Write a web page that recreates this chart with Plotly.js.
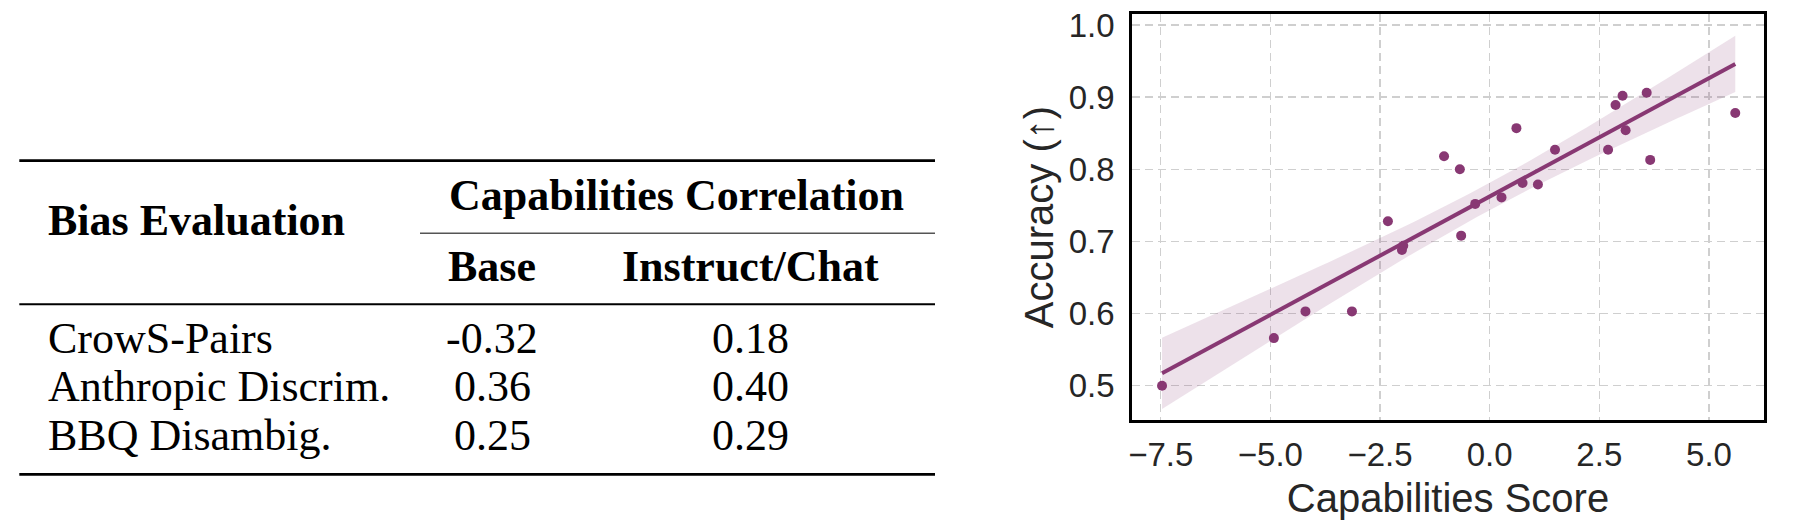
<!DOCTYPE html>
<html>
<head>
<meta charset="utf-8">
<script src="https://cdn.plot.ly/plotly-3.0.1.min.js"></script>
<style>html,body{margin:0;padding:0;background:#fff;}#chart{width:1802px;height:522px;}</style>
</head>
<body>
<div id="chart"></div>
<script>
// ---------------- DATA ----------------
// Table
const tableHeaderLeft = "Bias Evaluation";
const tableHeaderGroup = "Capabilities Correlation";
const tableColumns = ["Base", "Instruct/Chat"];
const biasEvaluations = ["CrowS-Pairs", "Anthropic Discrim.", "BBQ Disambig."];
const baseCorrelation = [-0.32, 0.36, 0.25];
const instructCorrelation = [0.18, 0.40, 0.29];

// Scatter: capabilities score vs accuracy
const capabilitiesScore = [-7.47, -4.92, -4.20, -3.14, -2.32, -2.00, -1.97, -1.04, -0.68, -0.65, -0.33,
                           0.27, 0.61, 0.75, 1.10, 1.49, 2.70, 2.87, 3.03, 3.10, 3.58, 3.66, 5.60];
const accuracy = [0.500, 0.566, 0.603, 0.603, 0.728, 0.688, 0.694, 0.818, 0.800, 0.708, 0.752,
                  0.761, 0.857, 0.781, 0.779, 0.827, 0.827, 0.889, 0.902, 0.854, 0.906, 0.813, 0.878];
const xTickVals = [-7.5, -5.0, -2.5, 0.0, 2.5, 5.0];
const xTickText = ["\u22127.5", "\u22125.0", "\u22122.5", "0.0", "2.5", "5.0"];
const yTickVals = [0.5, 0.6, 0.7, 0.8, 0.9, 1.0];
const yTickText = ["0.5", "0.6", "0.7", "0.8", "0.9", "1.0"];

// ---------------- REGRESSION (OLS + 95% CI) ----------------
const n = capabilitiesScore.length;
const xbar = capabilitiesScore.reduce((a, b) => a + b, 0) / n;
const ybar = accuracy.reduce((a, b) => a + b, 0) / n;
let Sxx = 0, Sxy = 0;
for (let i = 0; i < n; i++) {
  Sxx += (capabilitiesScore[i] - xbar) ** 2;
  Sxy += (capabilitiesScore[i] - xbar) * (accuracy[i] - ybar);
}
const slope = Sxy / Sxx, intercept = ybar - slope * xbar;
let sse = 0;
for (let i = 0; i < n; i++) sse += (accuracy[i] - intercept - slope * capabilitiesScore[i]) ** 2;
const s = Math.sqrt(sse / (n - 2));
const tCrit = 2.08;
const xmin = Math.min(...capabilitiesScore), xmax = Math.max(...capabilitiesScore);
const gx = [], gy = [], lo = [], hi = [];
for (let k = 0; k <= 100; k++) {
  const x = xmin + (xmax - xmin) * k / 100;
  const yh = intercept + slope * x;
  const se = s * Math.sqrt(1 / n + (x - xbar) ** 2 / Sxx);
  gx.push(x); gy.push(yh); lo.push(yh - tCrit * se); hi.push(yh + tCrit * se);
}

// ---------------- LAYOUT HELPERS ----------------
const W = 1802, H = 522;
const px = v => v / W;
const py = v => 1 - v / H;
const purple = "#883873";
const serif = "Liberation Serif, Times New Roman, serif";
const sans = "Liberation Sans, Arial, sans-serif";
const tfs = 44;

const traces = [
  {x: gx, y: lo, mode: "lines", line: {width: 0, color: purple}, hoverinfo: "skip", showlegend: false},
  {x: gx, y: hi, mode: "lines", line: {width: 0, color: purple}, fill: "tonexty",
   fillcolor: "rgba(136,56,115,0.15)", hoverinfo: "skip", showlegend: false},
  {x: gx, y: gy, mode: "lines", line: {width: 4, color: purple}, showlegend: false},
  {x: capabilitiesScore, y: accuracy, mode: "markers", marker: {size: 10, color: purple}, showlegend: false}
];

const ann = [];
function txt(text, xpx, ycenter, anchor, bold) {
  ann.push({text: bold ? "<b>" + text + "</b>" : text, xref: "paper", yref: "paper",
            x: px(xpx), y: py(ycenter), xanchor: anchor, yanchor: "middle", showarrow: false,
            font: {family: serif, size: tfs, color: "#000"}});
}
txt(tableHeaderLeft, 46, 220, "left", true);
txt(tableHeaderGroup, 676, 195, "center", true);
const colCenters = [492, 750];
tableColumns.forEach((c, i) => txt(c, colCenters[i], 266.5, "center", true));
const rowCenters = [338.5, 386.7, 435];
biasEvaluations.forEach((r, i) => {
  txt(r, 46, rowCenters[i], "left", false);
  txt(baseCorrelation[i].toFixed(2), colCenters[0], rowCenters[i], "center", false);
  txt(instructCorrelation[i].toFixed(2), colCenters[1], rowCenters[i], "center", false);
});

function rule(x0, x1, y, w, color) {
  return {type: "line", xref: "paper", yref: "paper", x0: px(x0), x1: px(x1), y0: py(y), y1: py(y),
          line: {color: color || "#000", width: w}};
}
const shapes = [
  rule(19.3, 935, 160.7, 2.8),
  rule(420, 935, 233.3, 1.4, "#555"),
  rule(19.3, 935, 304.3, 2.0),
  rule(19.3, 935, 474.3, 2.8)
];

const axisCommon = {
  showgrid: true, gridcolor: "#cfcfcf", gridwidth: 1.5, griddash: "8px,5px",
  showline: true, linecolor: "#000", linewidth: 2.8, mirror: true,
  zeroline: false, ticks: "", tickmode: "array",
  tickfont: {family: sans, size: 33, color: "#262626"}
};

const layout = {
  width: W, height: H,
  margin: {l: 0, r: 0, t: 0, b: 0},
  paper_bgcolor: "#fff", plot_bgcolor: "#fff",
  showlegend: false, hovermode: false,
  xaxis: Object.assign({}, axisCommon, {
    domain: [px(1132), px(1764)], range: [-8.155, 6.255],
    tickvals: xTickVals, ticktext: xTickText, ticklabelstandoff: 4,
    title: {text: "Capabilities Score", font: {family: sans, size: 40, color: "#262626"}, standoff: 12}
  }),
  yaxis: Object.assign({}, axisCommon, {
    domain: [1 - 420 / H, 1 - 14 / H], range: [0.4525, 1.0152],
    tickvals: yTickVals, ticktext: yTickText, ticklabelstandoff: 8,
    title: {text: "Accuracy (\u2191)", font: {family: sans, size: 40, color: "#262626"}, standoff: 3}
  }),
  annotations: ann,
  shapes: shapes
};

Plotly.newPlot("chart", traces, layout, {staticPlot: true, displayModeBar: false});
</script>
</body>
</html>
